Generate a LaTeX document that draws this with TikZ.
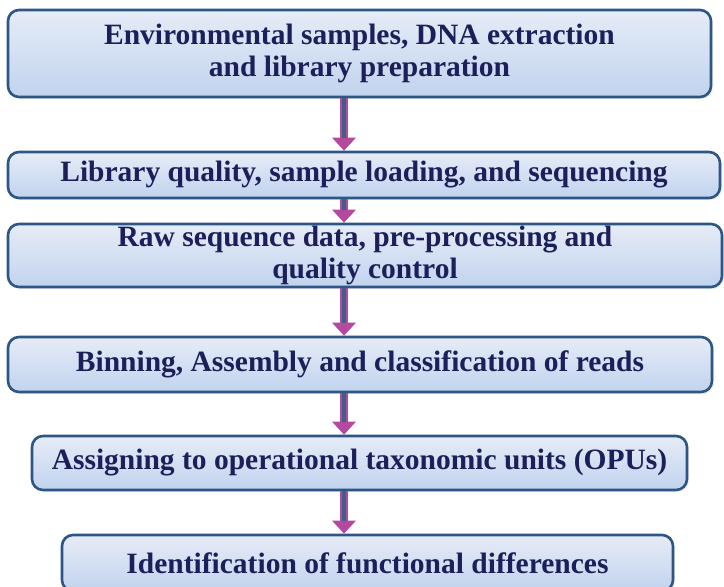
\documentclass[tikz,border=0pt]{standalone}
\usepackage{fontspec}
\setmainfont{Liberation Serif}
\usepackage{xcolor}
\usetikzlibrary{arrows.meta,shadows}

\definecolor{boxtop}{HTML}{E6ECF7}
\definecolor{boxbot}{HTML}{C1D3EE}
\definecolor{boxline}{HTML}{2D5686}
\definecolor{boxtext}{HTML}{1C1F5A}
\definecolor{arrowpink}{HTML}{B5489F}
\definecolor{arrowcore}{HTML}{3D5F8A}

\tikzset{
  stage/.style={draw=boxline, line width=2.6pt, rounded corners=11pt,
    top color=boxtop, bottom color=boxbot, text=boxtext,
    font=\bfseries\fontsize{29.5}{32}\selectfont, align=center,
    inner sep=0pt, drop shadow={opacity=0.12, shadow xshift=2pt, shadow yshift=-2pt}},
  flowline/.style={draw=arrowpink, line width=8pt,
    -{Triangle[width=23pt,length=13pt]}, arrowpink},
  flowcore/.style={draw=arrowcore, line width=3.2pt, shorten >=13pt}
}

\begin{document}
\begin{tikzpicture}[x=1pt, y=-1pt]
\useasboundingbox[fill=white] (0,0) rectangle (724,587);

% Pipeline stages
\node[stage, minimum width=703pt, minimum height=87pt] (b1) at (359.5,53.5)
  {Environmental samples, DNA extraction\\and library preparation};
\node[stage, minimum width=712pt, minimum height=46pt] (b2) at (364,175)
  {Library quality, sample loading, and sequencing};
\node[stage, minimum width=714pt, minimum height=63pt] (b3) at (365,255.5)
  {Raw sequence data, pre-processing and\\quality control};
\node[stage, minimum width=704pt, minimum height=55pt] (b4) at (360,364.5)
  {Binning, Assembly and classification of reads};
\node[stage, minimum width=655pt, minimum height=54pt] (b5) at (359.5,463)
  {Assigning to operational taxonomic units (OPUs)};
\node[stage, minimum width=611pt, minimum height=56pt] (b6) at (367.5,563)
  {Identification of functional differences};

% Vertical line the arrows run along
\coordinate (axis) at (344,0);

% Arrows between stages
\draw[flowline] (b1.south -| axis) -- (b2.north -| axis);
\draw[flowcore] (b1.south -| axis) -- (b2.north -| axis);

\draw[flowline] (b2.south -| axis) -- (b3.north -| axis);
\draw[flowcore] (b2.south -| axis) -- (b3.north -| axis);

\draw[flowline] (b3.south -| axis) -- (b4.north -| axis);
\draw[flowcore] (b3.south -| axis) -- (b4.north -| axis);

\draw[flowline] (b4.south -| axis) -- (b5.north -| axis);
\draw[flowcore] (b4.south -| axis) -- (b5.north -| axis);

\draw[flowline] (b5.south -| axis) -- (b6.north -| axis);
\draw[flowcore] (b5.south -| axis) -- (b6.north -| axis);

\end{tikzpicture}
\end{document}
